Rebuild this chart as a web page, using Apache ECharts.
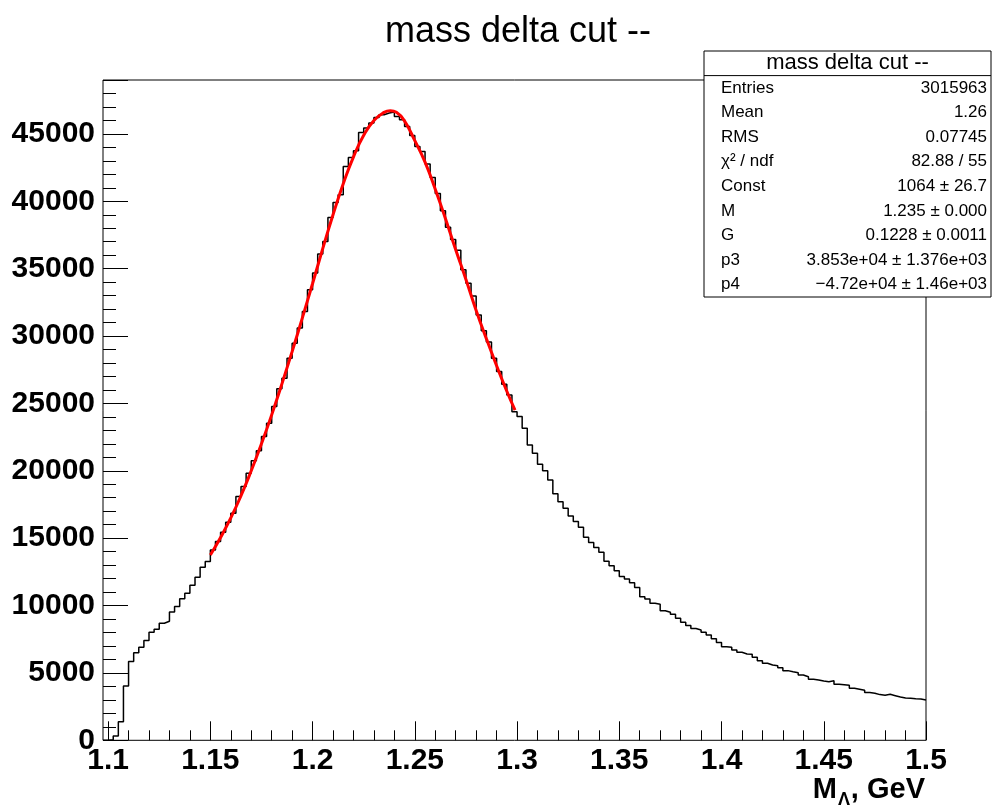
<!DOCTYPE html>
<html>
<head>
<meta charset="utf-8">
<script src="https://cdn.jsdelivr.net/npm/echarts@6/dist/echarts.min.js"></script>
<style>
html,body{margin:0;padding:0;background:#fff;}
#chart{width:1006px;height:809px;}
</style>
</head>
<body>
<div id="chart"></div>
<script>
// ---- data ----
const chartTitle = 'mass delta cut --';
const binLow = 1.0975;      // lower edge of first bin
const binHigh = 1.5;        // upper edge of last bin
const binWidth = 0.0025;
const counts = [
  0, 50, 320, 1380, 4030, 5840, 6500, 6900, 7400, 8020,
  8240, 8690, 8830, 9520, 9920, 10510, 10910, 11500, 12100, 12840,
  13260, 14130, 14750, 15440, 16180, 16850, 18090, 18830, 19820, 20740,
  21480, 22540, 23530, 24770, 26080, 26870, 28360, 29470, 30590, 31820,
  33430, 34670, 36080, 37020, 38800, 39910, 40480, 42580, 43250, 43750,
  45110, 45430, 45800, 46220, 46420, 46550, 46620, 46300, 46050, 45550,
  44880, 44070, 43700, 42760, 41770, 40580, 39290, 38080, 37160, 36370,
  34910, 33920, 32980, 31570, 30390, 29550, 28360, 27360, 26430, 25630,
  24390, 24020, 23160, 21920, 21300, 20490, 20010, 19320, 18290, 17710,
  17220, 16650, 16230, 15810, 15070, 14670, 14300, 13960, 13290, 12960,
  12590, 12150, 11970, 11700, 11330, 10660, 10490, 10170, 10090, 9620,
  9500, 9350, 9060, 8760, 8510, 8290, 8190, 8020, 7820, 7540,
  7250, 6950, 6900, 6700, 6530, 6410, 6380, 6160, 5910, 5720,
  5590, 5540, 5390, 5170, 5090, 5020, 4850, 4720, 4530, 4480,
  4400, 4350, 4420, 4160, 4130, 4080, 3860, 3790, 3710, 3540,
  3490, 3390, 3340, 3410, 3310, 3210, 3140, 3120, 3090, 3070,
  2990
];
const fitX = [1.150, 1.155, 1.160, 1.165, 1.170, 1.175, 1.180, 1.185, 1.190, 1.195,
              1.200, 1.205, 1.210, 1.215, 1.220, 1.225, 1.230, 1.235, 1.238, 1.241,
              1.245, 1.250, 1.255, 1.260, 1.265, 1.270, 1.275, 1.280, 1.285, 1.290,
              1.295, 1.299];
const fitY = [13750, 15050, 16500, 18150, 20000, 22000, 24150, 26450, 28850, 31350,
              33900, 36500, 39000, 41300, 43300, 44900, 46000, 46600, 46720, 46600,
              45950, 44500, 42900, 40900, 38700, 36400, 34200, 31900, 29800, 27800,
              25900, 24500];
const yMax = 49000;
const xTickMin = 1.1;
const xTickStep = 0.05;
const yMajorStep = 5000;
const yMinorStep = 1000;
const statsLabels = ['Entries', 'Mean', 'RMS', 'χ² / ndf', 'Const', 'M', 'G', 'p3', 'p4'];
const statsValues = ['3015963', '1.26', '0.07745', '82.88 / 55', '1064 ± 26.7',
                     '1.235 ± 0.000', '0.1228 ± 0.0011', '3.853e+04 ± 1.376e+03',
                     '−4.72e+04 ± 1.46e+03'];

// ---- build ----
const FONT = 'Liberation Sans, Arial, Helvetica, sans-serif';
const histData = counts.map((c, i) => [binLow + i * binWidth, c]);
histData.push([binHigh, counts[counts.length - 1]]);
const fitData = fitX.map((x, i) => [x, fitY[i]]);

// layout
const G = {left: 103, top: 80, width: 823, height: 660.3};
const pxPerUnit = G.width / (binHigh - binLow);
const g2Left = G.left + (xTickMin - binLow) * pxPerUnit;

// stats box geometry
const box = {x: 704, y: 51, w: 287, h: 246};
const nLines = statsLabels.length + 1;
const dy = box.h / nLines;
const graphics = [];
graphics.push({type: 'rect', z: 100, shape: {x: box.x, y: box.y, width: box.w, height: box.h},
  style: {fill: '#fff', stroke: '#000', lineWidth: 1}});
graphics.push({type: 'line', z: 101, shape: {x1: box.x, y1: box.y + dy, x2: box.x + box.w, y2: box.y + dy},
  style: {stroke: '#000', lineWidth: 1}});
graphics.push({type: 'text', z: 101, x: box.x + box.w / 2, y: box.y + dy / 2,
  style: {text: chartTitle, font: '22px ' + FONT, fill: '#000', align: 'center', verticalAlign: 'middle'}});
statsLabels.forEach((lab, i) => {
  const cy = box.y + dy * (i + 1.5);
  graphics.push({type: 'text', z: 101, x: box.x + 17, y: cy,
    style: {text: lab, font: '17px ' + FONT, fill: '#000', align: 'left', verticalAlign: 'middle'}});
  graphics.push({type: 'text', z: 101, x: box.x + box.w - 4, y: cy,
    style: {text: statsValues[i], font: '17px ' + FONT, fill: '#000', align: 'right', verticalAlign: 'middle'}});
});
// axis title M_Lambda, GeV
graphics.push({type: 'text', z: 101, x: 925, y: 790,
  style: {text: ', GeV', font: 'bold 29px ' + FONT, fill: '#000', align: 'right', verticalAlign: 'middle'}});
graphics.push({type: 'text', z: 101, x: 850, y: 800,
  style: {text: 'Λ', font: 'bold 18px ' + FONT, fill: '#000', align: 'right', verticalAlign: 'middle'}});
graphics.push({type: 'text', z: 101, x: 837, y: 790,
  style: {text: 'M', font: 'bold 29px ' + FONT, fill: '#000', align: 'right', verticalAlign: 'middle'}});

const chart = echarts.init(document.getElementById('chart'), null, {renderer: 'canvas'});
chart.setOption({
  animation: false,
  backgroundColor: '#fff',
  title: {
    text: chartTitle, left: 380, top: 9,
    textStyle: {fontFamily: FONT, fontSize: 36, fontWeight: 'normal', color: '#000'}
  },
  grid: [
    {left: G.left, top: G.top, width: G.width, height: G.height, show: true,
     borderColor: '#000', borderWidth: 1, backgroundColor: 'transparent', containLabel: false},
    {left: g2Left, top: G.top, width: G.left + G.width - g2Left, height: G.height, show: false}
  ],
  xAxis: [
    {type: 'value', gridIndex: 0, min: binLow, max: binHigh, show: false},
    {type: 'value', gridIndex: 1, min: xTickMin, max: binHigh, interval: xTickStep,
     axisLine: {show: false},
     axisTick: {show: true, inside: true, length: 19, lineStyle: {color: '#000', width: 1}},
     minorTick: {show: true, splitNumber: 5, length: 10, lineStyle: {color: '#000', width: 1}},
     splitLine: {show: false},
     axisLabel: {show: true, margin: 5, color: '#000', fontFamily: FONT, fontSize: 30, fontWeight: 'bold'}}
  ],
  yAxis: [
    {type: 'value', gridIndex: 0, position: 'left', min: 0, max: yMax, interval: yMinorStep,
     axisLine: {show: false}, splitLine: {show: false}, axisLabel: {show: false},
     axisTick: {show: true, inside: true, length: 13, lineStyle: {color: '#000', width: 1}}},
    {type: 'value', gridIndex: 0, position: 'left', offset: 0, min: 0, max: yMax, interval: yMajorStep,
     axisLine: {show: false}, splitLine: {show: false},
     axisTick: {show: true, inside: true, length: 25, lineStyle: {color: '#000', width: 1}},
     axisLabel: {show: true, margin: 8, color: '#000', fontFamily: FONT, fontSize: 30, fontWeight: 'bold',
       formatter: v => (v > 45000 ? '' : String(v))}},
    {type: 'value', gridIndex: 1, min: 0, max: 1, show: false}
  ],
  series: [
    {type: 'line', name: 'histogram', xAxisIndex: 0, yAxisIndex: 0, data: histData, step: 'end',
     symbol: 'none', lineStyle: {color: '#000', width: 1.5}, z: 3},
    {type: 'line', name: 'fit', xAxisIndex: 0, yAxisIndex: 0, data: fitData, smooth: true,
     symbol: 'none', lineStyle: {color: '#ff0000', width: 3}, z: 4}
  ],
  graphic: graphics
});
</script>
</body>
</html>
